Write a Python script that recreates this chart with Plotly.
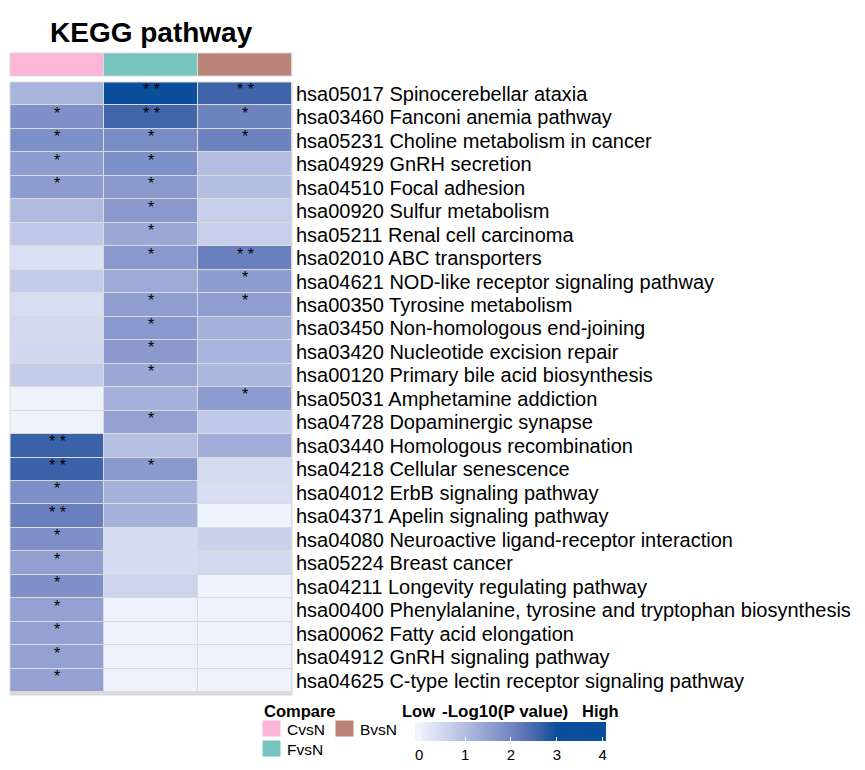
import plotly.graph_objects as go

# Page body has an 8px margin; figure is sized to fit the 865x770 window
OFF = 8
W, H = 865 - 2 * OFF, 770 - 2 * OFF

pathways = [
    "hsa05017 Spinocerebellar ataxia",
    "hsa03460 Fanconi anemia pathway",
    "hsa05231 Choline metabolism in cancer",
    "hsa04929 GnRH secretion",
    "hsa04510 Focal adhesion",
    "hsa00920 Sulfur metabolism",
    "hsa05211 Renal cell carcinoma",
    "hsa02010 ABC transporters",
    "hsa04621 NOD-like receptor signaling pathway",
    "hsa00350 Tyrosine metabolism",
    "hsa03450 Non-homologous end-joining",
    "hsa03420 Nucleotide excision repair",
    "hsa00120 Primary bile acid biosynthesis",
    "hsa05031 Amphetamine addiction",
    "hsa04728 Dopaminergic synapse",
    "hsa03440 Homologous recombination",
    "hsa04218 Cellular senescence",
    "hsa04012 ErbB signaling pathway",
    "hsa04371 Apelin signaling pathway",
    "hsa04080 Neuroactive ligand-receptor interaction",
    "hsa05224 Breast cancer",
    "hsa04211 Longevity regulating pathway",
    "hsa00400 Phenylalanine, tyrosine and tryptophan biosynthesis",
    "hsa00062 Fatty acid elongation",
    "hsa04912 GnRH signaling pathway",
    "hsa04625 C-type lectin receptor signaling pathway",
]

groups = ["CvsN", "FvsN", "BvsN"]
group_colors = ["#fbb6da", "#77c3bd", "#b98477"]

# -log10(P value)
cvsn = [1.17, 1.81, 1.84, 1.59, 1.58, 1.03, 0.78, 0.35, 0.75, 0.38, 0.50, 0.52, 0.73,
        0.02, 0.02, 2.63, 2.62, 1.84, 2.11, 1.81, 1.52, 1.81, 1.50, 1.50, 1.50, 1.50]
fvsn = [3.00, 2.56, 1.89, 1.84, 1.64, 1.66, 1.39, 1.66, 1.33, 1.56, 1.66, 1.64, 1.39,
        1.20, 1.50, 0.95, 1.64, 1.20, 1.20, 0.42, 0.42, 0.58, 0.02, 0.02, 0.02, 0.02]
bvsn = [2.59, 2.05, 2.05, 1.00, 0.97, 0.68, 0.67, 2.11, 1.58, 1.56, 1.20, 1.14, 1.09,
        1.58, 0.78, 1.27, 0.45, 0.40, 0.00, 0.63, 0.47, 0.00, 0.02, 0.02, 0.02, 0.02]

sig_c = ["", "*", "*", "*", "*", "", "", "", "", "", "", "", "",
         "", "", "* *", "* *", "*", "* *", "*", "*", "*", "*", "*", "*", "*"]
sig_f = ["* *", "* *", "*", "*", "*", "*", "*", "*", "", "*", "*", "*", "*",
         "", "*", "", "*", "", "", "", "", "", "", "", "", ""]
sig_b = ["* *", "*", "*", "", "", "", "", "* *", "*", "*", "", "", "",
         "*", "", "", "", "", "", "", "", "", "", "", "", ""]

colorbar_ticks = [0, 1, 2, 3, 4]

zmin, zmax = -0.09, 4.07
stops = [(0, "#eff3fd"), (1, "#b3bde1"), (2, "#7386c2"), (2.5, "#4a68ad"), (3, "#0b4f9c"), (4, "#0b4f9c")]
cs = [[0.0, stops[0][1]]]
for v, c in stops:
    cs.append([(v - zmin) / (zmax - zmin), c])
cs.append([1.0, stops[-1][1]])

z = [[cvsn[i], fvsn[i], bvsn[i]] for i in range(len(pathways))]


def px_x(p):
    return (p - OFF) / W


def px_y(p):
    return 1 - (p - OFF) / H


FONT = "Liberation Sans, Arial, Helvetica, sans-serif"

fig = go.Figure()
fig.add_trace(go.Heatmap(
    z=z, x=groups, y=pathways,
    colorscale=cs, zmin=zmin, zmax=zmax, xgap=1, ygap=1,
    hoverinfo="skip",
    colorbar=dict(
        orientation="h", x=px_x(510.5), xanchor="center", y=px_y(722), yanchor="top",
        lenmode="pixels", len=191, thickness=19, xpad=0, ypad=0,
        outlinewidth=0, tickvals=colorbar_ticks, ticks="inside", ticklen=4,
        tickcolor="white", tickfont=dict(size=15, family=FONT, color="black"),
    ),
))
fig.add_trace(go.Heatmap(
    z=[[0, 1, 2]], x=groups, y=["Compare"], xaxis="x", yaxis="y2",
    colorscale=[[0, group_colors[0]], [0.5, group_colors[1]], [1, group_colors[2]]],
    showscale=False, xgap=1, hoverinfo="skip",
))

fig.update_layout(
    width=W, height=H, margin=dict(l=0, r=0, t=0, b=0, autoexpand=False),
    paper_bgcolor="white", plot_bgcolor="#dadada",
    xaxis=dict(domain=[px_x(10), px_x(292)], showticklabels=False, showgrid=False,
               zeroline=False, ticks="", automargin=False),
    yaxis=dict(domain=[px_y(695), px_y(82)], autorange="reversed", side="right",
               showgrid=False, zeroline=False, ticks="", automargin=False,
               tickmode="array", tickvals=pathways, ticktext=pathways,
               ticklabelstandoff=3,
               tickfont=dict(size=20, family=FONT, color="black")),
    yaxis2=dict(domain=[px_y(76), px_y(53)], showticklabels=False, showgrid=False,
                zeroline=False, automargin=False),
    showlegend=False,
    font=dict(family=FONT),
)

shapes = [
    dict(type="rect", xref="x domain", yref="y domain", x0=0, x1=1, y0=0, y1=1,
         line=dict(color="#dadada", width=1)),
    dict(type="rect", xref="x domain", yref="y2 domain", x0=0, x1=1, y0=0, y1=1,
         line=dict(color="#dadada", width=1)),
]
# Compare legend swatches
sw = [(262, 720, 0), (262, 740, 1), (335, 720, 2)]
for x0, y0, gi in sw:
    shapes.append(dict(type="rect", xref="paper", yref="paper",
                       x0=px_x(x0), x1=px_x(x0 + 19), y0=px_y(y0 + 17), y1=px_y(y0),
                       fillcolor=group_colors[gi], line=dict(color="white", width=1)))
fig.update_layout(shapes=shapes)

ann = [
    dict(text="<b>KEGG pathway</b>", x=px_x(151), y=px_y(33), font=dict(size=28, color="black")),
    dict(text="<b>Compare</b>", x=px_x(262), y=px_y(711), xanchor="left", font=dict(size=16.5, color="black")),
    dict(text=groups[0], x=px_x(285), y=px_y(729), xanchor="left", font=dict(size=15.5, color="black")),
    dict(text=groups[1], x=px_x(285), y=px_y(749), xanchor="left", font=dict(size=15.5, color="black")),
    dict(text=groups[2], x=px_x(358), y=px_y(729), xanchor="left", font=dict(size=15.5, color="black")),
    dict(text="<b>Low</b>", x=px_x(400), y=px_y(711), xanchor="left", font=dict(size=16.5, color="black")),
    dict(text="<b>-Log10(P value)</b>", x=px_x(505), y=px_y(711), font=dict(size=17, color="black")),
    dict(text="<b>High</b>", x=px_x(621), y=px_y(711), xanchor="right", font=dict(size=16.5, color="black")),
]
for a in ann:
    a.update(xref="paper", yref="paper", showarrow=False)
    a.setdefault("xanchor", "center")
    a["yanchor"] = "middle"
    a["font"]["family"] = FONT

# significance stars, placed on the heatmap cells
for sig, g in ((sig_c, groups[0]), (sig_f, groups[1]), (sig_b, groups[2])):
    for i, s in enumerate(sig):
        if s:
            ann.append(dict(text=s, x=g, y=pathways[i], xref="x", yref="y",
                            showarrow=False, yshift=4,
                            font=dict(size=16, color="black", family=FONT)))
fig.update_layout(annotations=ann)

fig.write_html("out.html")
